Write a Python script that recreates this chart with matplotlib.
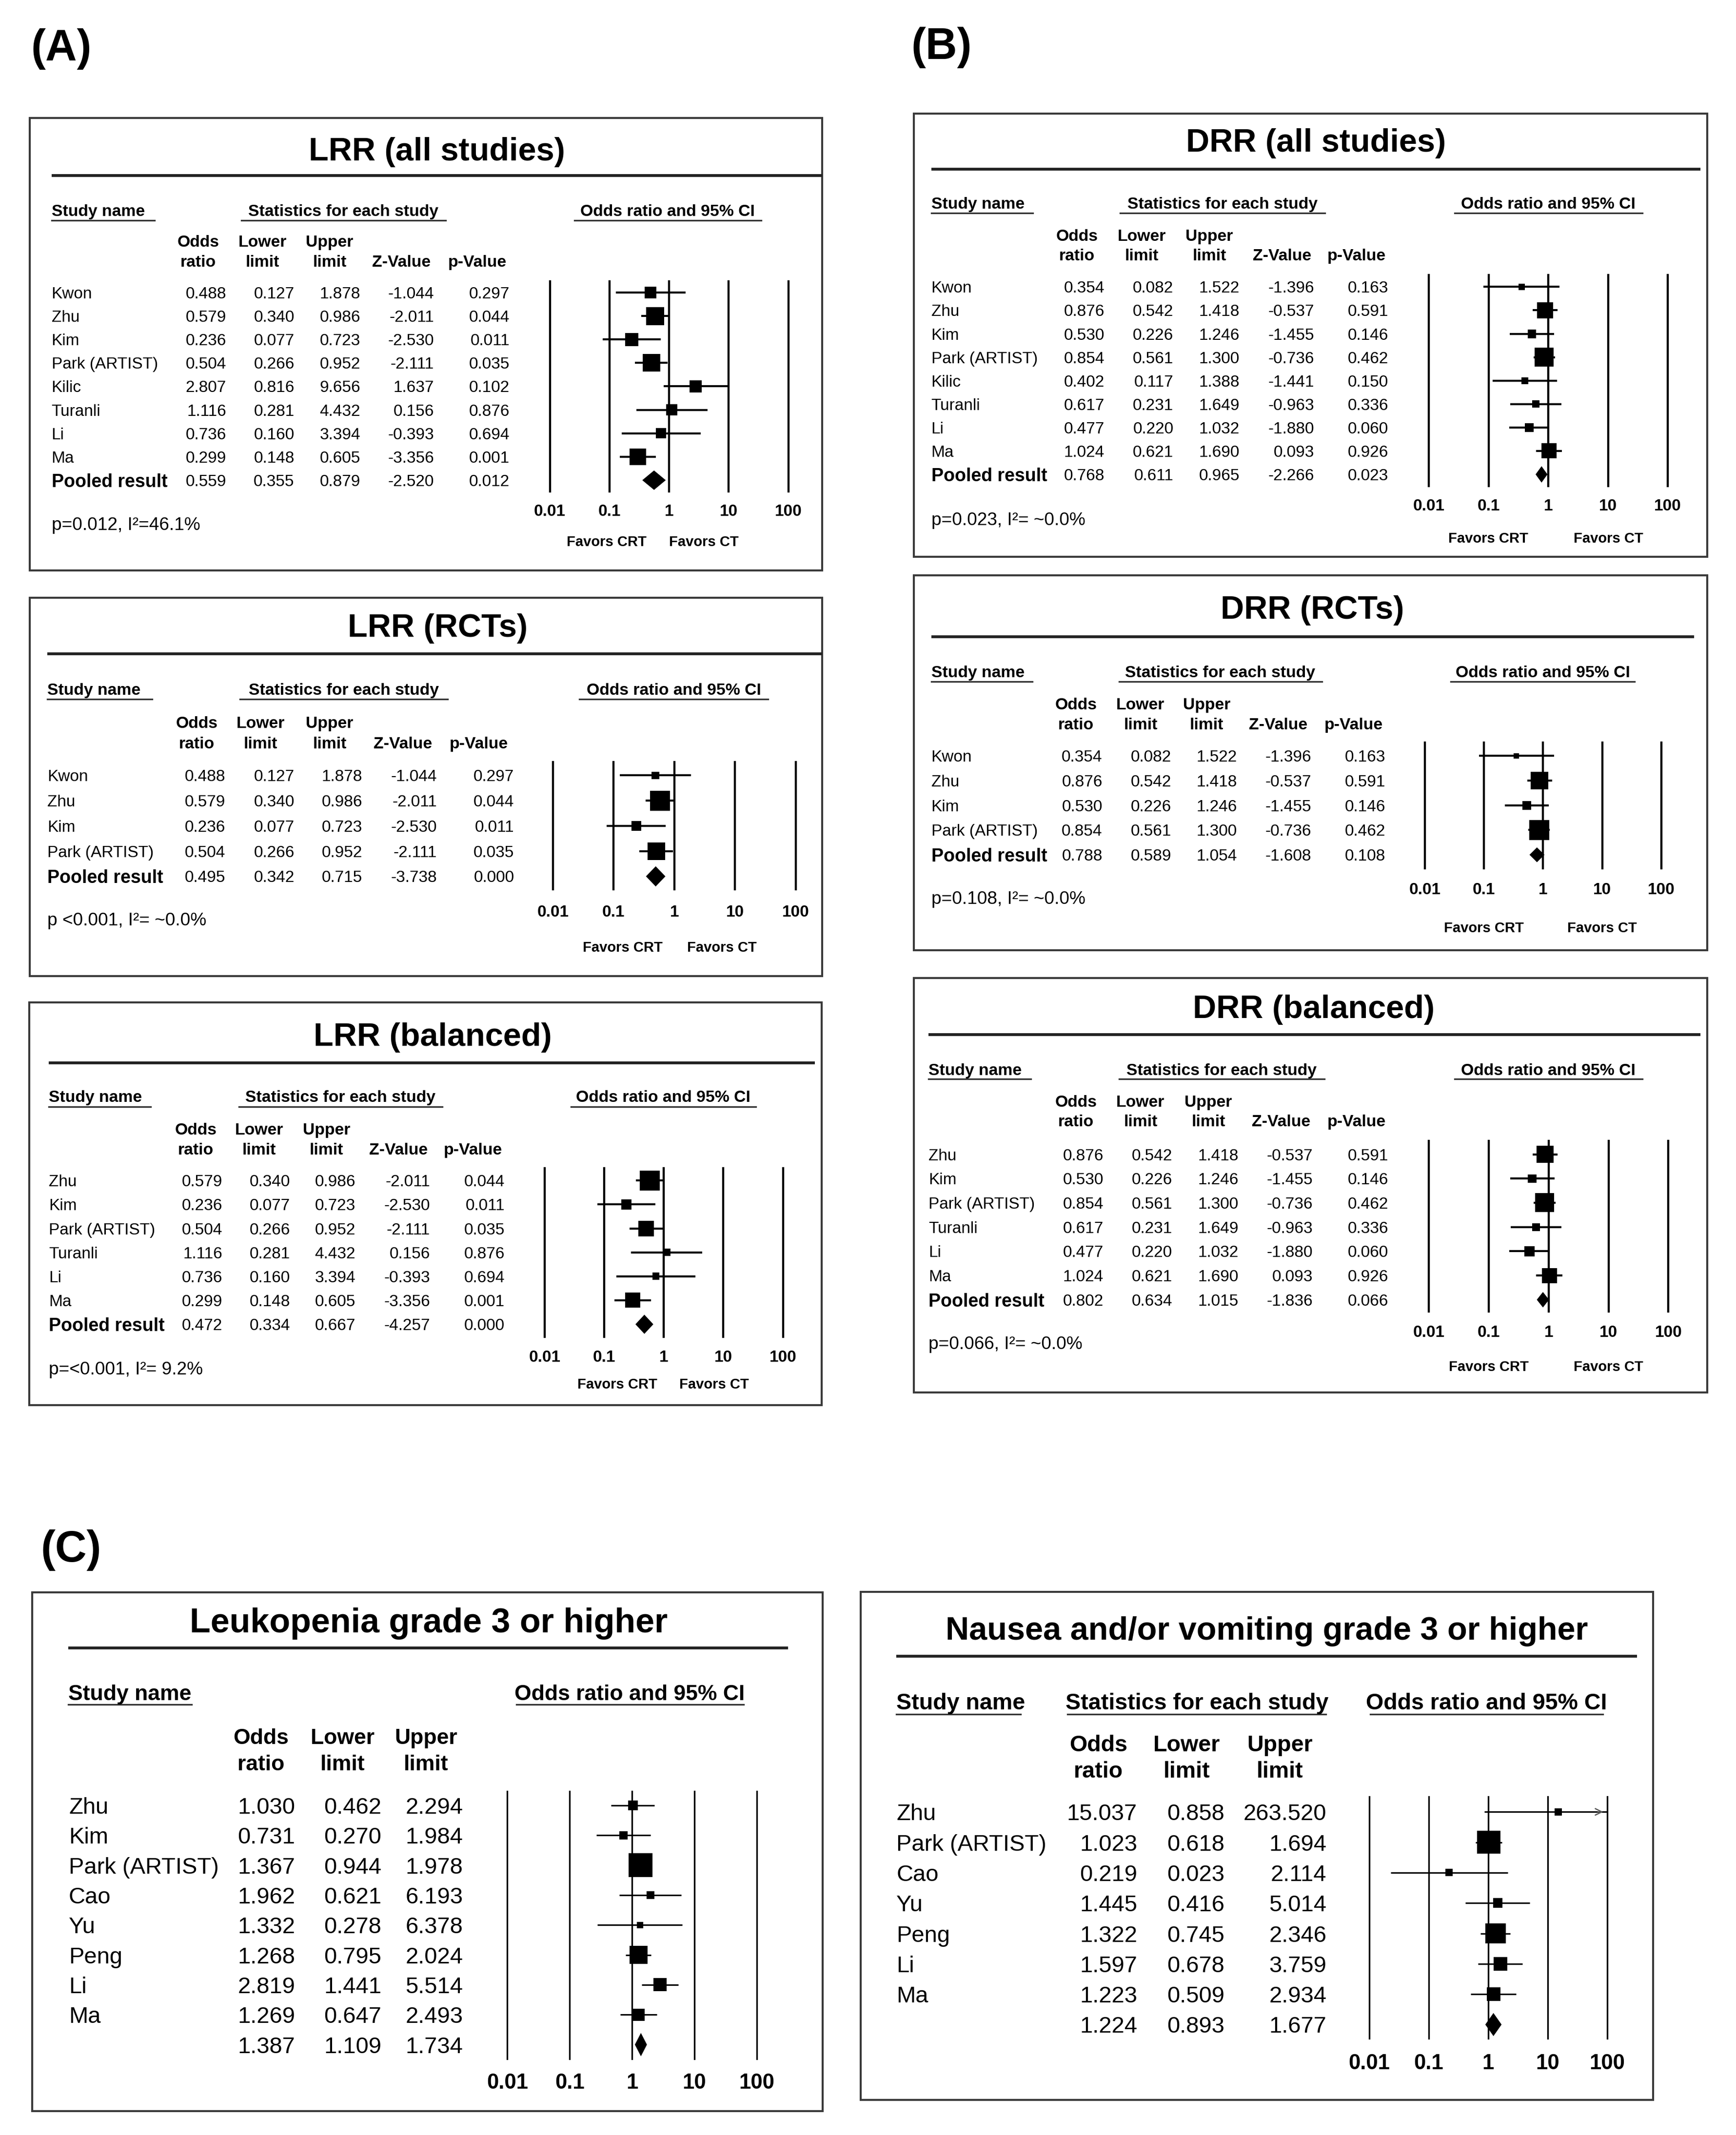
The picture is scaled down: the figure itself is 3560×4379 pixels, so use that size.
import numpy as np
import matplotlib
matplotlib.use("Agg")
import matplotlib.pyplot as plt
from matplotlib.patches import Rectangle
from matplotlib import transforms

plt.rcParams['font.family'] = ['Liberation Sans', 'DejaVu Sans']

# ------------------------------------------------------------------ data
# (A) LRR, all studies
lrr_all_names = ["Kwon", "Zhu", "Kim", "Park (ARTIST)", "Kilic", "Turanli", "Li", "Ma"]
lrr_all_or = [0.488, 0.579, 0.236, 0.504, 2.807, 1.116, 0.736, 0.299]
lrr_all_lo = [0.127, 0.340, 0.077, 0.266, 0.816, 0.281, 0.160, 0.148]
lrr_all_hi = [1.878, 0.986, 0.723, 0.952, 9.656, 4.432, 3.394, 0.605]
lrr_all_z = [-1.044, -2.011, -2.530, -2.111, 1.637, 0.156, -0.393, -3.356]
lrr_all_p = [0.297, 0.044, 0.011, 0.035, 0.102, 0.876, 0.694, 0.001]
lrr_all_w = [8.6, 20.4, 10.8, 19.3, 9.3, 7.9, 6.6, 17.2]
lrr_all_pooled = [0.559, 0.355, 0.879, -2.520, 0.012]
lrr_all_note = "p=0.012, I²=46.1%"

# (A) LRR, RCTs
lrr_rct_names = ["Kwon", "Zhu", "Kim", "Park (ARTIST)"]
lrr_rct_or = [0.488, 0.579, 0.236, 0.504]
lrr_rct_lo = [0.127, 0.340, 0.077, 0.266]
lrr_rct_hi = [1.878, 0.986, 0.723, 0.952]
lrr_rct_z = [-1.044, -2.011, -2.530, -2.111]
lrr_rct_p = [0.297, 0.044, 0.011, 0.035]
lrr_rct_w = [7.0, 46.3, 11.0, 35.7]
lrr_rct_pooled = [0.495, 0.342, 0.715, -3.738, 0.000]
lrr_rct_note = "p <0.001, I²= ~0.0%"

# (A) LRR, balanced
lrr_bal_names = ["Zhu", "Kim", "Park (ARTIST)", "Turanli", "Li", "Ma"]
lrr_bal_or = [0.579, 0.236, 0.504, 1.116, 0.736, 0.299]
lrr_bal_lo = [0.340, 0.077, 0.266, 0.281, 0.160, 0.148]
lrr_bal_hi = [0.986, 0.723, 0.952, 4.432, 3.394, 0.605]
lrr_bal_z = [-2.011, -2.530, -2.111, 0.156, -0.393, -3.356]
lrr_bal_p = [0.044, 0.011, 0.035, 0.876, 0.694, 0.001]
lrr_bal_w = [36.9, 9.7, 22.5, 4.9, 4.9, 21.1]
lrr_bal_pooled = [0.472, 0.334, 0.667, -4.257, 0.000]
lrr_bal_note = "p=<0.001, I²= 9.2%"

# (B) DRR, all studies
drr_all_names = ["Kwon", "Zhu", "Kim", "Park (ARTIST)", "Kilic", "Turanli", "Li", "Ma"]
drr_all_or = [0.354, 0.876, 0.530, 0.854, 0.402, 0.617, 0.477, 1.024]
drr_all_lo = [0.082, 0.542, 0.226, 0.561, 0.117, 0.231, 0.220, 0.621]
drr_all_hi = [1.522, 1.418, 1.246, 1.300, 1.388, 1.649, 1.032, 1.690]
drr_all_z = [-1.396, -0.537, -1.455, -0.736, -1.441, -0.963, -1.880, 0.093]
drr_all_p = [0.163, 0.591, 0.146, 0.462, 0.150, 0.336, 0.060, 0.926]
drr_all_w = [3.5, 22.6, 6.7, 31.6, 4.1, 4.7, 6.7, 20.0]
drr_all_pooled = [0.768, 0.611, 0.965, -2.266, 0.023]
drr_all_note = "p=0.023, I²= ~0.0%"

# (B) DRR, RCTs
drr_rct_names = ["Kwon", "Zhu", "Kim", "Park (ARTIST)"]
drr_rct_or = [0.354, 0.876, 0.530, 0.854]
drr_rct_lo = [0.082, 0.542, 0.226, 0.561]
drr_rct_hi = [1.522, 1.418, 1.246, 1.300]
drr_rct_z = [-1.396, -0.537, -1.455, -0.736]
drr_rct_p = [0.163, 0.591, 0.146, 0.462]
drr_rct_w = [3.5, 37.9, 9.5, 49.1]
drr_rct_pooled = [0.788, 0.589, 1.054, -1.608, 0.108]
drr_rct_note = "p=0.108, I²= ~0.0%"

# (B) DRR, balanced
drr_bal_names = ["Zhu", "Kim", "Park (ARTIST)", "Turanli", "Li", "Ma"]
drr_bal_or = [0.876, 0.530, 0.854, 0.617, 0.477, 1.024]
drr_bal_lo = [0.542, 0.226, 0.561, 0.231, 0.220, 0.621]
drr_bal_hi = [1.418, 1.246, 1.300, 1.649, 1.032, 1.690]
drr_bal_z = [-0.537, -1.455, -0.736, -0.963, -1.880, 0.093]
drr_bal_p = [0.591, 0.146, 0.462, 0.336, 0.060, 0.926]
drr_bal_w = [26.1, 6.2, 32.4, 5.5, 9.4, 20.5]
drr_bal_pooled = [0.802, 0.634, 1.015, -1.836, 0.066]
drr_bal_note = "p=0.066, I²= ~0.0%"

# (C) Leukopenia grade 3 or higher
leu_names = ["Zhu", "Kim", "Park (ARTIST)", "Cao", "Yu", "Peng", "Li", "Ma"]
leu_or = [1.030, 0.731, 1.367, 1.962, 1.332, 1.268, 2.819, 1.269]
leu_lo = [0.462, 0.270, 0.944, 0.621, 0.278, 0.795, 1.441, 0.647]
leu_hi = [2.294, 1.984, 1.978, 6.193, 6.378, 2.024, 5.514, 2.493]
leu_w = [6.4, 4.6, 38.5, 4.1, 2.7, 21.9, 11.7, 10.0]
leu_pooled = [1.387, 1.109, 1.734]

# (C) Nausea and/or vomiting grade 3 or higher
nau_names = ["Zhu", "Park (ARTIST)", "Cao", "Yu", "Peng", "Li", "Ma"]
nau_or = [15.037, 1.023, 0.219, 1.445, 1.322, 1.597, 1.223]
nau_lo = [0.858, 0.618, 0.023, 0.416, 0.745, 0.678, 0.509]
nau_hi = [263.520, 1.694, 2.114, 5.014, 2.346, 3.759, 2.934]
nau_w = [3.5, 35.2, 3.5, 5.9, 27.5, 12.2, 12.2]
nau_pooled = [1.224, 0.893, 1.677]

decades = [0.01, 0.1, 1, 10, 100]
decade_labels = ["0.01", "0.1", "1", "10", "100"]

# ------------------------------------------------------------------ figure
W, H, DPI = 3561, 4379, 300
RW = 1280.0
RH = H * RW / W

fig = plt.figure(figsize=(W / DPI, H / DPI), dpi=DPI)
bg = fig.add_axes([0, 0, 1, 1])
bg.set_xlim(0, RW)
bg.set_ylim(RH, 0)
bg.axis('off')


def draw_panel(L, names, orv, lo, hi, stats_cols, w, pooled, note, big=False,
               pooled_label="Pooled result"):
    fs_row = L.get('fs_row', 11 if big else 8)
    fs_hdr = L.get('fs_hdr', 10.5 if big else 8.1)
    fs_title = L.get('fs_title', 16)
    fs_tick = 10.5 if big else 8
    lw_v = 0.8 if big else 1.05
    lw_ci = 0.75 if big else 1.0

    x0, y0, x1, y1 = L['box']
    bg.add_patch(Rectangle((x0, y0), x1 - x0, y1 - y0, fill=False,
                           ec='#3a3a3a', lw=1.0))
    bg.text(L['tc'][0], L['tc'][1], L['title'], ha='center', va='center_baseline',
            fontsize=fs_title, fontweight='bold')
    rx0, rx1, ry = L['rule']
    bg.plot([rx0, rx1], [ry, ry], color='#222222', lw=1.4, solid_capstyle='butt')

    hy, uy = L['hdr_y'], L['ul_y']
    tx, ux0, ux1 = L['study']
    bg.text(tx, hy, "Study name", ha='left', va='center_baseline',
            fontsize=fs_hdr, fontweight='bold')
    bg.plot([ux0, ux1], [uy, uy], color='#333333', lw=0.8)
    if L.get('stats') is not None:
        cx, ux0, ux1 = L['stats']
        bg.text(cx, hy, "Statistics for each study", ha='center',
                va='center_baseline', fontsize=fs_hdr, fontweight='bold')
        bg.plot([ux0, ux1], [uy, uy], color='#333333', lw=0.8)
    cx, ux0, ux1 = L['oddsh']
    bg.text(cx, hy, "Odds ratio and 95% CI", ha='center',
            va='center_baseline', fontsize=fs_hdr, fontweight='bold')
    bg.plot([ux0, ux1], [uy, uy], color='#333333', lw=0.8)

    heads1 = ["Odds", "Lower", "Upper", "", ""]
    heads2 = ["ratio", "limit", "limit", "Z-Value", "p-Value"]
    ncol = len(L['ch_x'])
    for k in range(ncol):
        if heads1[k]:
            bg.text(L['ch_x'][k], L['ch_y'][0], heads1[k], ha='center',
                    va='center_baseline', fontsize=fs_hdr, fontweight='bold')
        bg.text(L['ch_x'][k], L['ch_y'][1], heads2[k], ha='center',
                va='center_baseline', fontsize=fs_hdr, fontweight='bold')

    cols = [orv, lo, hi] + list(stats_cols)
    n = len(names)
    for i in range(n):
        y = L['row0'] + i * L['step']
        bg.text(L['name_x'], y, names[i], ha='left', va='center_baseline',
                fontsize=fs_row)
        for k in range(ncol):
            bg.text(L['num_x'][k], y, f"{cols[k][i]:.3f}", ha='right',
                    va='center_baseline', fontsize=fs_row)
    y = L['row0'] + n * L['step']
    if pooled_label:
        bg.text(L['name_x'], y, pooled_label, ha='left', va='center_baseline',
                fontsize=9, fontweight='bold')
    for k in range(ncol):
        bg.text(L['num_x'][k], y, f"{pooled[k]:.3f}", ha='right',
                va='center_baseline', fontsize=fs_row)

    if note:
        bg.text(L['p_xy'][0], L['p_xy'][1], note, ha='left',
                va='center_baseline', fontsize=8.9)
    if L.get('fav_x') is not None:
        bg.text(L['fav_x'][0], L['fav_y'], "Favors CRT", ha='center',
                va='center_baseline', fontsize=7, fontweight='bold')
        bg.text(L['fav_x'][1], L['fav_y'], "Favors CT", ha='center',
                va='center_baseline', fontsize=7, fontweight='bold')

    # forest plot axes
    fx0, fx1 = L['fx0'], L['fx1']
    ly0, ly1 = L['ly']
    ax = fig.add_axes([fx0 / RW, 1 - ly1 / RH, (fx1 - fx0) / RW, (ly1 - ly0) / RH])
    ax.set_xscale('log')
    ax.set_xlim(decades[0], decades[-1])
    ax.set_ylim((ly1 - L['row0']) / L['step'], (ly0 - L['row0']) / L['step'])
    ax.axis('off')
    for v in decades:
        ax.axvline(v, color='black', lw=lw_v, clip_on=False)
    rows = np.arange(n)
    lo_a = np.clip(np.array(lo), decades[0], decades[-1])
    hi_a = np.clip(np.array(hi), decades[0], decades[-1])
    ax.hlines(rows, lo_a, hi_a, color='black', lw=lw_ci, zorder=2)
    wa = np.array(w, dtype=float)
    side = L['smax'] * np.sqrt(wa / wa.max()) * 72.0 / DPI
    ax.scatter(orv, rows, s=side ** 2, marker='s', color='black',
               linewidths=0, zorder=3, clip_on=False)
    for i in range(n):
        if hi[i] > decades[-1]:
            ax.annotate('', xy=(decades[-1], i), xytext=(decades[-1] * 0.6, i),
                        arrowprops=dict(arrowstyle='->', color='#555555',
                                        lw=0.6, mutation_scale=8),
                        annotation_clip=False)
    pe, pl, ph = pooled[0], pooled[1], pooled[2]
    h = L['dh']
    ax.fill([pl, pe, ph, pe], [n, n - h, n, n + h], color='black', lw=0,
            zorder=3, clip_on=False)
    tr = transforms.blended_transform_factory(ax.transData, bg.transData)
    for v, lab in zip(decades, decade_labels):
        ax.text(v, L['tick_y'], lab, transform=tr, ha='center',
                va='center_baseline', fontsize=fs_tick, fontweight='bold',
                clip_on=False)


# ------------------------------------------------------------------ layouts (reference px)
LA1 = dict(box=(22, 87, 606, 420.5), title='LRR (all studies)', tc=(322, 109.5),
           rule=(38, 606, 129.5), hdr_y=155, ul_y=162.5, study=(38, 38, 114),
           stats=(253, 178, 328.5), oddsh=(492, 423.5, 561), ch_y=(177.5, 192.3),
           ch_x=[146, 193.5, 243, 296, 352], num_x=[166.8, 217, 265.7, 320, 375.6],
           name_x=38, row0=215.7, step=17.29, fx0=405.3, fx1=581.1, ly=(207.3, 362.5),
           tick_y=376, p_xy=(38, 386), fav_y=398.6, fav_x=(447, 519), dh=0.415, smax=37)
LA2 = dict(box=(22, 440.7, 606, 719.6), title='LRR (RCTs)', tc=(322.7, 460.7),
           rule=(35, 606, 481.9), hdr_y=508, ul_y=515.5, study=(35, 35, 112),
           stats=(253.5, 177, 330), oddsh=(496.6, 427, 566), ch_y=(532.4, 547.4),
           ch_x=[145, 192, 243, 297, 353], num_x=[166, 217, 267, 322, 379],
           name_x=35, row0=571.7, step=18.6, fx0=407.5, fx1=586.5, ly=(561.8, 655.8),
           tick_y=671.5, p_xy=(35, 677.4), fav_y=697.8, fav_x=(459, 532), dh=0.4, smax=41)
LA3 = dict(box=(21.6, 739, 605.6, 1035.9), title='LRR (balanced)', tc=(318.8, 762.3),
           rule=(36, 600.5, 783.5), hdr_y=808, ul_y=816, study=(36, 36, 111),
           stats=(251, 176, 326), oddsh=(489, 421, 557), ch_y=(832, 846.8),
           ch_x=[144.4, 191, 240.6, 293.6, 348.5], num_x=[164, 214, 262, 317, 372],
           name_x=36, row0=870.3, step=17.67, fx0=401.5, fx1=577.1, ly=(861.2, 985.6),
           tick_y=999.6, p_xy=(36, 1008.6), fav_y=1019.8, fav_x=(455, 526.5), dh=0.4, smax=41)
LB1 = dict(box=(673.6, 83.9, 1258.5, 410.5), title='DRR (all studies)', tc=(970, 103.2),
           rule=(686.4, 1253.4, 124.9), hdr_y=149.7, ul_y=156.9, study=(686.4, 686.4, 761.4),
           stats=(901, 825.5, 976.6), oddsh=(1141.4, 1072.3, 1210.5), ch_y=(173.1, 187.6),
           ch_x=[793.9, 841.5, 891.5, 945, 1000], num_x=[814.2, 865, 913.7, 968.7, 1023.4],
           name_x=686.4, row0=211.5, step=17.28, fx0=1053.3, fx1=1229.4, ly=(202.7, 358.3),
           tick_y=372, p_xy=(686.4, 382.3), fav_y=396, fav_x=(1097, 1185.5), dh=0.35, smax=39)
LB2 = dict(box=(673.6, 424.3, 1258.5, 700.6), title='DRR (RCTs)', tc=(967.2, 447.4),
           rule=(686.4, 1248.7, 469.4), hdr_y=495.1, ul_y=502.4, study=(686.4, 686.4, 761),
           stats=(899.3, 825.1, 974.3), oddsh=(1137.1, 1069.2, 1205), ch_y=(518.8, 533.5),
           ch_x=[793.1, 840.7, 889.5, 942.2, 997.7], num_x=[812.6, 863.4, 911.8, 966.5, 1021.1],
           name_x=686.4, row0=557.2, step=18.25, fx0=1050.2, fx1=1224.7, ly=(547.5, 640.2),
           tick_y=655, p_xy=(686.4, 661.5), fav_y=683.4, fav_x=(1093.7, 1181), dh=0.3, smax=41)
LB3 = dict(box=(673.6, 721, 1258.5, 1026.6), title='DRR (balanced)', tc=(968.4, 742),
           rule=(684.5, 1253.4, 762.7), hdr_y=788.3, ul_y=795.5, study=(684.5, 684.5, 760),
           stats=(900.4, 825.1, 976.2), oddsh=(1141.4, 1072.3, 1210.5), ch_y=(811.7, 826.1),
           ch_x=[793.1, 840.7, 890.7, 944.2, 1000], num_x=[813.4, 864.2, 913, 967.7, 1023.4],
           name_x=684.5, row0=851, step=17.87, fx0=1053.3, fx1=1229.8, ly=(841.1, 966.9),
           tick_y=981.2, p_xy=(684.5, 989.8), fav_y=1006.8, fav_x=(1097.4, 1185.5), dh=0.32, smax=39)
LC1 = dict(box=(23.6, 1174, 606.4, 1556.5), title='Leukopenia grade 3 or higher', tc=(316, 1194.1),
           rule=(50.2, 581, 1215), hdr_y=1247.6, ul_y=1256.7, study=(50.2, 50.2, 141.3),
           stats=None, oddsh=(464, 380.7, 548.3), ch_y=(1279.9, 1299.5),
           ch_x=[192.3, 252.4, 314], num_x=[217.5, 281.1, 341.2],
           name_x=50.7, row0=1331, step=22.05, fx0=374, fx1=557.8, ly=(1320.6, 1518),
           tick_y=1534, dh=0.39, smax=49, fs_title=16.8, fs_row=11.3, fs_hdr=10.7)
LC2 = dict(box=(634.6, 1173.5, 1218.6, 1548), title='Nausea and/or vomiting grade 3 or higher',
           tc=(933.8, 1200.2), rule=(660.8, 1206.5, 1221), hdr_y=1254.2, ul_y=1263.7,
           study=(660.8, 660.8, 752.2), stats=(882.5, 786.7, 977.5), oddsh=(1095.7, 1009.9, 1181.5),
           ch_y=(1285, 1304.4), ch_x=[809.6, 874.8, 943.4], num_x=[838.2, 902.7, 977.9],
           name_x=660.8, row0=1335.8, step=22.4, fx0=1009.3, fx1=1184.7, ly=(1324.5, 1502.7),
           tick_y=1519.8, dh=0.38, smax=47.5, fs_title=16, fs_row=11.3, fs_hdr=11.2)

draw_panel(LA1, lrr_all_names, lrr_all_or, lrr_all_lo, lrr_all_hi, [lrr_all_z, lrr_all_p],
           lrr_all_w, lrr_all_pooled, lrr_all_note)
draw_panel(LA2, lrr_rct_names, lrr_rct_or, lrr_rct_lo, lrr_rct_hi, [lrr_rct_z, lrr_rct_p],
           lrr_rct_w, lrr_rct_pooled, lrr_rct_note)
draw_panel(LA3, lrr_bal_names, lrr_bal_or, lrr_bal_lo, lrr_bal_hi, [lrr_bal_z, lrr_bal_p],
           lrr_bal_w, lrr_bal_pooled, lrr_bal_note)
draw_panel(LB1, drr_all_names, drr_all_or, drr_all_lo, drr_all_hi, [drr_all_z, drr_all_p],
           drr_all_w, drr_all_pooled, drr_all_note)
draw_panel(LB2, drr_rct_names, drr_rct_or, drr_rct_lo, drr_rct_hi, [drr_rct_z, drr_rct_p],
           drr_rct_w, drr_rct_pooled, drr_rct_note)
draw_panel(LB3, drr_bal_names, drr_bal_or, drr_bal_lo, drr_bal_hi, [drr_bal_z, drr_bal_p],
           drr_bal_w, drr_bal_pooled, drr_bal_note)
draw_panel(LC1, leu_names, leu_or, leu_lo, leu_hi, [], leu_w, leu_pooled, None,
           big=True, pooled_label=None)
draw_panel(LC2, nau_names, nau_or, nau_lo, nau_hi, [], nau_w, nau_pooled, None,
           big=True, pooled_label=None)

# panel labels
bg.text(23, 36, "(A)", ha='left', va='center', fontsize=21.5, fontweight='bold')
bg.text(671.5, 35, "(B)", ha='left', va='center', fontsize=21.5, fontweight='bold')
bg.text(30, 1143, "(C)", ha='left', va='center', fontsize=21.5, fontweight='bold')

fig.savefig("out.png", dpi=DPI, facecolor='white')
